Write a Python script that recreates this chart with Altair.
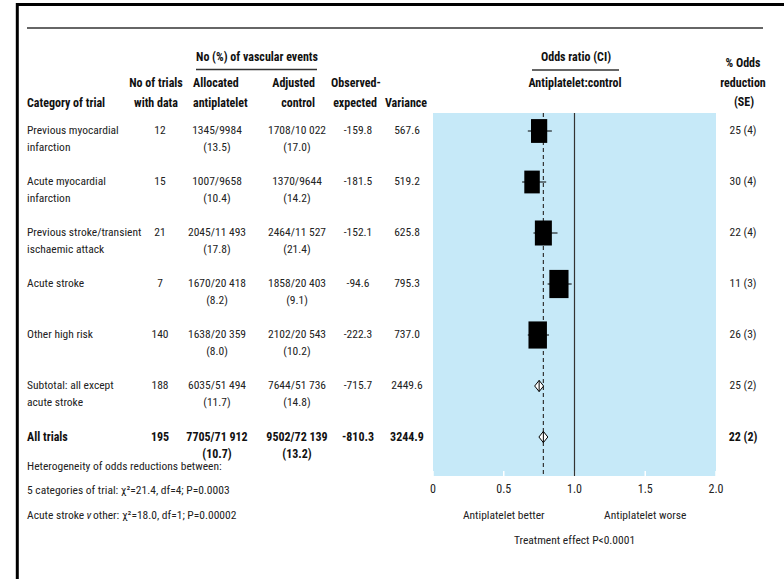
import altair as alt
import pandas as pd

# ---- data -------------------------------------------------------------
category_line1 = ["Previous myocardial", "Acute myocardial", "Previous stroke/transient",
                  "Acute stroke", "Other high risk", "Subtotal: all except", "All trials"]
category_line2 = ["\u00a0infarction", "\u00a0infarction", "\u00a0ischaemic attack", "", "",
                  "\u00a0acute stroke", ""]
n_trials = [12, 15, 21, 7, 140, 188, 195]
allocated_events = ["1345/9984", "1007/9658", "2045/11 493", "1670/20 418",
                    "1638/20 359", "6035/51 494", "7705/71 912"]
allocated_pct = [13.5, 10.4, 17.8, 8.2, 8.0, 11.7, 10.7]
control_events = ["1708/10 022", "1370/9644", "2464/11 527", "1858/20 403",
                  "2102/20 543", "7644/51 736", "9502/72 139"]
control_pct = [17.0, 14.2, 21.4, 9.1, 10.2, 14.8, 13.2]
observed_expected = [-159.8, -181.5, -152.1, -94.6, -222.3, -715.7, -810.3]
variance = [567.6, 519.2, 625.8, 795.3, 737.0, 2449.6, 3244.9]
odds_reduction = [25, 30, 22, 11, 26, 25, 22]
odds_reduction_se = [4, 4, 4, 3, 3, 2, 2]
ci_low = [0.67, 0.63, 0.71, 0.81, 0.67, 0.72, 0.75]
ci_high = [0.84, 0.80, 0.88, 0.98, 0.82, 0.78, 0.81]
is_summary = [False, False, False, False, False, True, True]
is_bold = [False, False, False, False, False, False, True]

axis_values = [0, 0.5, 1.0, 1.5, 2.0]
axis_labels = ["0", "0.5", "1.0", "1.5", "2.0"]

# ---- table ------------------------------------------------------------
rows = pd.DataFrame({
    "row": list(range(len(category_line1))),
    "cat1": category_line1,
    "cat2": category_line2,
    "n": [str(v) for v in n_trials],
    "alloc": allocated_events,
    "alloc_pct": [f"({v:.1f})" for v in allocated_pct],
    "ctrl": control_events,
    "ctrl_pct": [f"({v:.1f})" for v in control_pct],
    "oe": [f"{v:.1f}" for v in observed_expected],
    "var": [f"{v:.1f}" for v in variance],
    "variance": variance,
    "red": [f"{r} ({s})" for r, s in zip(odds_reduction, odds_reduction_se)],
    "odds_ratio": [1 - r / 100 for r in odds_reduction],
    "lo": ci_low,
    "hi": ci_high,
    "summary": is_summary,
    "bold": is_bold,
})
overall_or = rows.loc[rows["row"] == 6, "odds_ratio"].iloc[0]
ticks = pd.DataFrame({"v": axis_values, "lbl": axis_labels})

FONT = ("Roboto Condensed, Noto Sans Condensed, Liberation Sans Narrow, "
        "Roboto, sans-serif")
TXT = "#222222"
BODY = 11.5
HEAD = 12
X_SCALE = alt.Scale(domain=[0, 2], range=[433, 716], nice=False, zero=False)
Y_SCALE = alt.Scale(domain=[0, 6], range=[131, 437], nice=False, zero=False)
Y_ROW = alt.Y("row:Q", scale=Y_SCALE, axis=None)

PLOT_TOP, PLOT_BOTTOM = 113, 476

# rectangular box symbol (taller than wide) and open diamond with centre stroke
BOX = "M-0.68,-1L0.68,-1L0.68,1L-0.68,1Z"
DIAMOND = "M0,-1L0.8,0L0,1L-0.8,0ZM0,-1L0,1"


def label(text, x, y, align="center", bold=False, size=BODY, italic=False, color=None):
    return alt.Chart(pd.DataFrame({"t": [text]})).mark_text(
        align=align, baseline="middle", font=FONT, fontSize=size,
        fontWeight="bold" if bold else "normal",
        fontStyle="italic" if italic else "normal",
        color=color or ("#111111" if bold else TXT),
    ).encode(x=alt.value(x), y=alt.value(y), text="t:N")


def head(text, x, y, align="center"):
    return label(text, x, y, align=align, bold=True, size=HEAD)


def column(field, x, align="center", dy=0, size=BODY):
    out = []
    for flag, weight, col in ((False, "normal", TXT), (True, "bold", "#111111")):
        out.append(
            alt.Chart(rows).transform_filter(alt.datum.bold == flag).mark_text(
                align=align, baseline="middle", dy=dy, font=FONT,
                fontSize=size + (0.5 if flag else 0),
                fontWeight=weight, color=col,
            ).encode(x=alt.value(x), y=Y_ROW, text=f"{field}:N")
        )
    return out


def hrule(x1, x2, y, width=1.5, color="#333333"):
    return alt.Chart(pd.DataFrame({"k": [0]})).mark_rule(
        color=color, strokeWidth=width
    ).encode(x=alt.value(x1), x2=alt.value(x2), y=alt.value(y))


def vrule(x, y1, y2, width=3, color="black"):
    return alt.Chart(pd.DataFrame({"k": [0]})).mark_rule(
        color=color, strokeWidth=width
    ).encode(x=alt.value(x), y=alt.value(y1), y2=alt.value(y2))


layers = []

# frame and top rule
layers.append(hrule(16, 784, 4.5, width=3, color="black"))
layers.append(vrule(17.3, 3, 579))
layers.append(hrule(27, 763, 28, width=1.5))

# plot background
layers.append(
    alt.Chart(pd.DataFrame({"k": [0]})).mark_rect(color="#c6e9f8").encode(
        x=alt.XDatum(0, scale=X_SCALE, axis=None),
        x2=alt.X2Datum(2),
        y=alt.value(PLOT_TOP),
        y2=alt.value(PLOT_BOTTOM),
    )
)

# white inner ticks and their labels
layers.append(
    alt.Chart(ticks).mark_rule(color="white", strokeWidth=1.5).encode(
        x=alt.X("v:Q", scale=X_SCALE, axis=None),
        y=alt.value(PLOT_BOTTOM - 5),
        y2=alt.value(PLOT_BOTTOM),
    )
)
layers.append(
    alt.Chart(ticks).mark_text(
        align="center", baseline="middle", font=FONT, fontSize=12, color=TXT
    ).encode(
        x=alt.X("v:Q", scale=X_SCALE, axis=None),
        y=alt.value(489),
        text="lbl:N",
    )
)

# reference lines: overall effect (dashed) and no effect (solid)
layers.append(
    alt.Chart(pd.DataFrame({"k": [0]})).mark_rule(color="#333333", strokeWidth=1.2, strokeDash=[4, 3]).encode(
        x=alt.XDatum(overall_or, scale=X_SCALE, axis=None),
        y=alt.value(PLOT_TOP), y2=alt.value(PLOT_BOTTOM),
    )
)
layers.append(
    alt.Chart(pd.DataFrame({"k": [0]})).mark_rule(color="#333333", strokeWidth=1.2).encode(
        x=alt.XDatum(1.0, scale=X_SCALE, axis=None),
        y=alt.value(PLOT_TOP), y2=alt.value(PLOT_BOTTOM),
    )
)

# confidence intervals and boxes
cats = alt.Chart(rows).transform_filter(alt.datum.summary == False)
layers.append(
    cats.mark_rule(color="black", strokeWidth=1).encode(
        x=alt.X("lo:Q", scale=X_SCALE, axis=None), x2="hi:Q", y=Y_ROW,
    )
)
layers.append(
    cats.mark_point(shape=BOX, filled=True, color="black", opacity=1).encode(
        x=alt.X("odds_ratio:Q", scale=X_SCALE, axis=None), y=Y_ROW,
        size=alt.Size("variance:Q", scale=None),
    )
)
layers.append(
    alt.Chart(rows).transform_filter(alt.datum.summary == True).mark_point(
        shape=DIAMOND, filled=True, fill="white", stroke="black", strokeWidth=1,
        opacity=1, size=125,
    ).encode(x=alt.X("odds_ratio:Q", scale=X_SCALE, axis=None), y=Y_ROW)
)

# table columns
layers += column("cat1", 27, align="left")
layers += column("cat2", 27, align="left", dy=17)
layers += column("n", 160)
layers += column("alloc", 217)
layers += column("alloc_pct", 217, dy=17)
layers += column("ctrl", 297)
layers += column("ctrl_pct", 297, dy=17)
layers += column("oe", 358)
layers += column("var", 407)
layers += column("red", 743)

# headers
layers += [
    head("No (%) of vascular events", 257, 57),
    hrule(196, 317, 69.5),
    head("No of trials", 156, 83),
    head("with data", 156, 103),
    head("Category of trial", 27, 103, align="left"),
    head("Allocated", 193, 83, align="left"),
    head("antiplatelet", 193, 103, align="left"),
    head("Adjusted", 315, 83, align="right"),
    head("control", 315, 103, align="right"),
    head("Observed-", 331, 83, align="left"),
    head("expected", 355, 103),
    head("Variance", 406, 103),
    head("Odds ratio (CI)", 576, 57),
    hrule(532, 619, 70),
    head("Antiplatelet:control", 575, 83),
    head("% Odds", 743, 63),
    head("reduction", 743, 83),
    head("(SE)", 744, 102),
]

# axis annotations
def axis_note(text, value, y):
    return alt.Chart(pd.DataFrame({"t": [text]})).mark_text(
        align="center", baseline="middle", font=FONT, fontSize=BODY, color=TXT,
    ).encode(x=alt.XDatum(value, scale=X_SCALE, axis=None), y=alt.value(y), text="t:N")


layers += [
    axis_note("Antiplatelet better", 0.5, 516),
    axis_note("Antiplatelet worse", 1.5, 516),
    axis_note("Treatment effect P<0.0001", 1.0, 541),
]

# heterogeneity notes
layers += [
    label("Heterogeneity of odds reductions between:", 27, 467, align="left"),
    label("5 categories of trial: χ²=21.4, df=4; P=0.0003", 27, 491, align="left"),
    label("Acute stroke", 27, 516, align="left"),
    label("v", 89, 516, italic=True),
    label("other: χ²=18.0, df=1; P=0.00002", 93, 516, align="left"),
]

chart = alt.layer(*layers).properties(
    width=784,
    height=PLOT_BOTTOM,
    padding={"left": 0, "top": 0, "right": 0, "bottom": 579 - PLOT_BOTTOM},
    autosize=alt.AutoSizeParams(type="none"),
    background="white",
).configure_view(stroke=None)

chart.save("out.html", embed_options={"renderer": "svg", "actions": False})
